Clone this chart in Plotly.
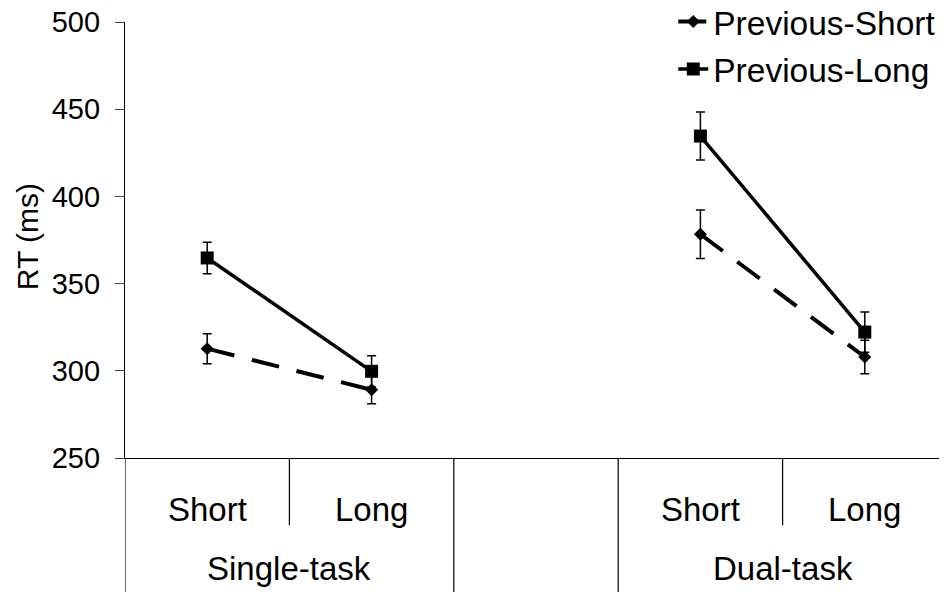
import plotly.graph_objects as go

# ---- data ----
slots = ["Single-Short", "Single-Long", "gap", "Dual-Short", "Dual-Long"]
soa_labels = ["Short", "Long", "", "Short", "Long"]
task_labels = ["Single-task", "Dual-task"]
task_centers = [0.5, 3.5]

prev_short = [312.7, 289.1, None, 378.3, 307.9]
prev_short_err = [8.6, 8.0, None, 13.9, 9.6]
prev_long = [364.7, 299.7, None, 434.6, 322.2]
prev_long_err = [9.0, 9.0, None, 13.8, 11.5]

y_ticks = [250, 300, 350, 400, 450, 500]

FONT = "Liberation Sans, Arial, sans-serif"

fig = go.Figure()

fig.add_trace(go.Scatter(
    x=slots, y=prev_short, name="Previous-Short", mode="lines+markers",
    connectgaps=False, legendgroup="a",
    line=dict(color="black", width=4, dash="28px,18px"),
    marker=dict(symbol="diamond", size=10, color="black"),
    error_y=dict(type="data", array=prev_short_err, color="black", thickness=1.5, width=4.5),
    hoverinfo="skip",
))
fig.add_trace(go.Scatter(
    x=slots, y=prev_long, name="Previous-Long", mode="lines+markers",
    connectgaps=False, legendgroup="b",
    line=dict(color="black", width=3.5),
    marker=dict(symbol="square", size=13, color="black"),
    error_y=dict(type="data", array=prev_long_err, color="black", thickness=1.5, width=4.5),
    hoverinfo="skip",
))

# separators below axis
bounds = [(-0.5, -0.33), (0.5, -0.1545), (1.5, -0.33), (2.5, -0.33), (3.5, -0.1545)]
for xb, yb in bounds:
    fig.add_shape(type="line", xref="x", yref="paper", x0=xb, x1=xb, y0=0, y1=yb,
                  line=dict(color="black", width=1.2))

# category labels
for i, lab in enumerate(soa_labels):
    if lab:
        fig.add_annotation(x=slots[i], y=-0.118, xref="x", yref="paper", text=lab,
                           showarrow=False, xanchor="center", yanchor="middle",
                           font=dict(family=FONT, size=33, color="black"))
for lab, c in zip(task_labels, task_centers):
    fig.add_annotation(x=c, y=-0.254, xref="x", yref="paper", text=lab,
                       showarrow=False, xanchor="center", yanchor="middle",
                       font=dict(family=FONT, size=33, color="black"))

# y title
fig.add_annotation(x=-0.1192, y=0.5065, xref="paper", yref="paper", text="RT (ms)",
                   textangle=-90, showarrow=False, xanchor="center", yanchor="middle",
                   font=dict(family=FONT, size=30, color="black"))

fig.update_layout(
    width=939, height=584,
    margin=dict(l=117, r=0, t=14, b=134, autoexpand=False),
    paper_bgcolor="white", plot_bgcolor="white",
    showlegend=True,
    legend=dict(x=0.667, y=1.066, xanchor="left", yanchor="top",
                font=dict(family=FONT, size=33.5, color="black"),
                bgcolor="rgba(0,0,0,0)", traceorder="grouped", tracegroupgap=1),
    font=dict(family=FONT, color="black"),
)
fig.update_xaxes(type="category", categoryorder="array", categoryarray=slots,
                 range=[-0.5, 4.5], showticklabels=False, ticks="",
                 showline=True, linecolor="black", linewidth=1.2,
                 showgrid=False, zeroline=False, automargin=False)
fig.update_yaxes(range=[250, 500], tickvals=y_ticks, ticktext=[str(v) for v in y_ticks],
                 ticks="outside", ticklen=9, tickcolor="#444", tickwidth=1.2,
                 showline=True, linecolor="black", linewidth=1.2,
                 showgrid=False, zeroline=False, ticklabelstandoff=9, automargin=False,
                 ticklabeloverflow="allow",
                 tickfont=dict(family=FONT, size=29, color="black"))

fig.write_html("out.html")
